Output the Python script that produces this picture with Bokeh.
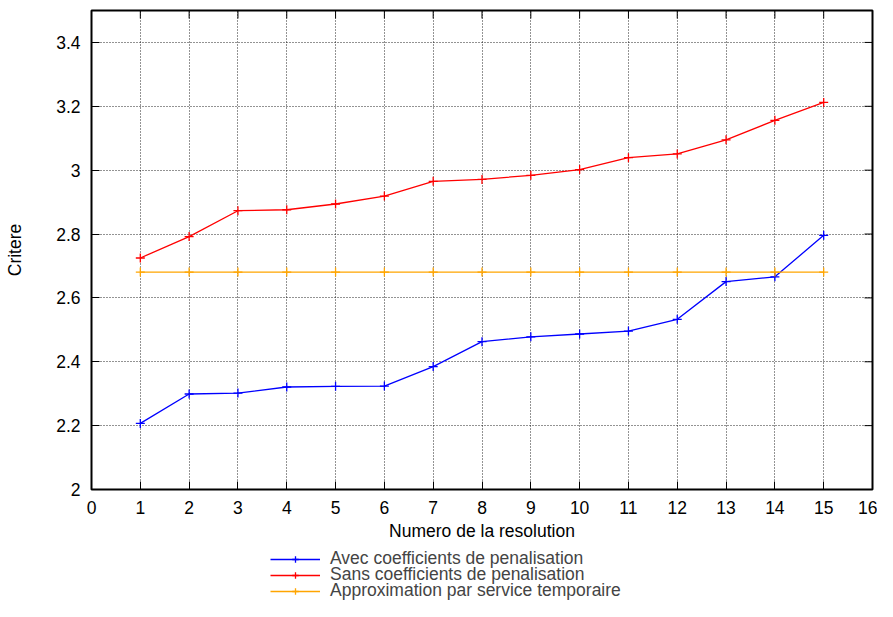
import math
from bokeh.plotting import figure
from bokeh.layouts import column
from bokeh.models import FixedTicker, Legend, LegendItem, Range1d
from bokeh.embed import file_html
from bokeh.resources import INLINE

# ---- data ----
resolution = list(range(1, 16))
avec = [2.207, 2.299, 2.302, 2.321, 2.323, 2.324, 2.385, 2.463, 2.478, 2.487,
        2.496, 2.533, 2.651, 2.666, 2.796]
sans = [2.725, 2.792, 2.873, 2.876, 2.894, 2.919, 2.965, 2.971, 2.984, 3.002,
        3.039, 3.051, 3.095, 3.156, 3.212]
approx = [2.681] * 15
x_ticks = list(range(0, 17))
y_ticks = [2.0, 2.2, 2.4, 2.6, 2.8, 3.0, 3.2, 3.4]
y_tick_labels = ["2", "2.2", "2.4", "2.6", "2.8", "3", "3.2", "3.4"]
series_names = ["Avec coefficients de penalisation",
                "Sans coefficients de penalisation",
                "Approximation par service temporaire"]
colors = ["#0000ff", "#ff0000", "#ffa500"]
x_min, x_max = 0, 16
y_min, y_max = 2.0, 3.5

FONT = "Liberation Sans"
FS = "17.5px"
W = 877
LW = 1.3

p = figure(width=W, height=544, output_backend="svg", toolbar_location=None,
           x_range=Range1d(x_min, x_max), y_range=Range1d(y_min, y_max),
           min_border_left=91, min_border_right=5, min_border_top=10,
           min_border_bottom=55)
p.background_fill_color = "white"
p.border_fill_color = "white"
p.outline_line_color = "black"
p.outline_line_width = 2

xt = FixedTicker(ticks=x_ticks)
yt = FixedTicker(ticks=y_ticks)

p.xaxis.ticker = xt
p.yaxis.ticker = yt
p.yaxis.major_label_overrides = {t: l for t, l in zip(y_ticks, y_tick_labels)}

for ax in (p.xaxis, p.yaxis):
    ax.axis_line_color = None
    ax.major_tick_out = 0
    ax.major_tick_in = 8
    ax.major_tick_line_color = "black"
    ax.minor_tick_line_color = None
    ax.major_label_text_font = FONT
    ax.major_label_text_font_size = FS
    ax.major_label_text_color = "black"
    ax.axis_label_text_font = FONT
    ax.axis_label_text_font_size = FS
    ax.axis_label_text_font_style = "normal"
    ax.axis_label_text_color = "black"

p.xaxis.axis_label = "Numero de la resolution"
p.yaxis.axis_label = "Critere"
p.xaxis.major_label_standoff = 11
p.xaxis.axis_label_standoff = 4
p.yaxis.major_label_standoff = 11
p.yaxis.axis_label_standoff = 28

p.xgrid.ticker = xt
p.ygrid.ticker = yt
for g in (p.xgrid, p.ygrid):
    g.grid_line_color = "black"
    g.grid_line_dash = "1 2"
    g.grid_line_width = 1
    g.grid_line_alpha = 0.85

# mirrored inward ticks on the top and right edges (clipped to the frame)
p.scatter(x_ticks, [y_max] * len(x_ticks), marker="dash", angle=math.pi / 2,
          size=16, line_color="black", line_width=1)
p.scatter([x_max] * len(y_ticks), y_ticks, marker="dash",
          size=16, line_color="black", line_width=1)

series = [avec, sans, approx]
for ys, c in zip(series, colors):
    p.line(resolution, ys, line_color=c, line_width=LW)
    p.scatter(resolution, ys, marker="cross", size=9, line_color=c, line_width=LW)

# ---- legend strip below the chart (its own plot; the series lie outside its view) ----
p2 = figure(width=W, height=57, output_backend="svg", toolbar_location=None,
            x_range=Range1d(-2, -1), y_range=Range1d(-2, -1),
            min_border_left=0, min_border_right=0, min_border_top=0,
            min_border_bottom=0)
p2.xaxis.visible = False
p2.yaxis.visible = False
p2.grid.visible = False
p2.outline_line_color = None
p2.background_fill_color = "white"
p2.border_fill_color = "white"

row_offsets = [32, 16, 0]  # tight gnuplot-style key rows (pixels from strip bottom)
for ys, c, name, off in zip(series, colors, series_names, row_offsets):
    l = p2.line(resolution, ys, line_color=c, line_width=LW)
    s = p2.scatter(resolution, ys, marker="cross", size=9, line_color=c, line_width=LW)
    lg = Legend(items=[LegendItem(label=name, renderers=[l, s])],
                location=(179, off), orientation="vertical",
                glyph_width=50, glyph_height=16, label_height=16, spacing=0,
                padding=0, margin=0, label_standoff=10,
                label_text_font=FONT, label_text_font_size=FS,
                border_line_color=None, background_fill_alpha=0)
    p2.add_layout(lg, "center")

layout = column(p, p2, spacing=0)
open("out.html", "w").write(file_html(layout, INLINE))
